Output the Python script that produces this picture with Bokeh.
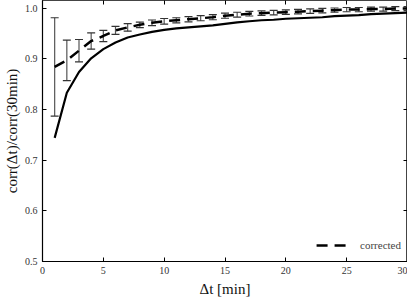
from bokeh.plotting import figure
from bokeh.models import (LinearAxis, FixedTicker, Whisker, ColumnDataSource, Range1d,
                          Legend, LegendItem, TeeHead)
from bokeh.embed import file_html
from bokeh.resources import INLINE

# --- data ---
dt = list(range(1, 31))
raw = [0.744, 0.833, 0.874, 0.901, 0.919, 0.932, 0.942, 0.948, 0.953, 0.957,
       0.960, 0.962, 0.964, 0.966, 0.969, 0.972, 0.974, 0.976, 0.977, 0.979,
       0.980, 0.981, 0.982, 0.984, 0.985, 0.986, 0.988, 0.989, 0.990, 0.991]
corrected = [0.884, 0.897, 0.916, 0.935, 0.945, 0.956, 0.962, 0.967, 0.971, 0.974,
             0.976, 0.978, 0.980, 0.982, 0.985, 0.987, 0.989, 0.990, 0.991, 0.992,
             0.993, 0.994, 0.995, 0.996, 0.997, 0.997, 0.998, 0.998, 0.999, 0.999]
err = [0.097, 0.040, 0.022, 0.016, 0.011, 0.008, 0.0075, 0.0055, 0.0055, 0.0055,
       0.0050, 0.0050, 0.0050, 0.0050, 0.0050, 0.0048, 0.0046, 0.0045, 0.0045, 0.0044,
       0.0044, 0.0043, 0.0043, 0.0042, 0.0042, 0.0042, 0.0041, 0.0041, 0.0040, 0.0040]
x_ticks = [0, 5, 10, 15, 20, 25, 30]
y_ticks = [0.5, 0.6, 0.7, 0.8, 0.9, 1.0]
y_tick_labels = {0.5: "0.5", 0.6: "0.6", 0.7: "0.7", 0.8: "0.8", 0.9: "0.9", 1.0: "1.0"}

FONT = "Liberation Serif"

p = figure(width=407, height=299, output_backend="svg", toolbar_location=None,
           x_range=Range1d(0, 30), y_range=Range1d(0.5, 1.015),
           min_border_left=37, min_border_right=0, min_border_top=0, min_border_bottom=0,
           x_axis_label="Δt [min]", y_axis_label="corr(Δt)/corr(30min)")
p.grid.visible = False
p.outline_line_color = "#444444"
p.outline_line_width = 1

for axes in (p.xaxis, p.yaxis):
    axes.major_tick_in = 4
    axes.major_tick_out = 0
    axes.minor_tick_line_color = None
    axes.axis_line_color = "black"
    axes.axis_line_width = 1.2
    axes.major_label_text_font = FONT
    axes.major_label_text_font_size = "10px"
    axes.major_label_text_color = "#333333"
    axes.axis_label_text_font = FONT
    axes.axis_label_text_font_size = "15px"
    axes.axis_label_text_font_style = "normal"
    axes.axis_label_text_color = "#111111"

p.xaxis.ticker = FixedTicker(ticks=x_ticks)
p.yaxis.ticker = FixedTicker(ticks=y_ticks)
p.yaxis.major_label_overrides = y_tick_labels
p.xaxis.major_label_standoff = 5
p.yaxis.major_label_standoff = 5
p.xaxis.axis_label_standoff = 4
p.yaxis.axis_label_standoff = 2

# mirrored axes (ticks only)
top = LinearAxis(ticker=FixedTicker(ticks=x_ticks), major_tick_in=4, major_tick_out=0,
                 minor_tick_line_color=None, axis_line_color=None, major_label_standoff=0,
                 axis_label_standoff=0,
                 major_label_overrides={t: "" for t in x_ticks})
right = LinearAxis(ticker=FixedTicker(ticks=y_ticks), major_tick_in=4, major_tick_out=0,
                   minor_tick_line_color=None, axis_line_color=None, major_label_standoff=0,
                   axis_label_standoff=0,
                   major_label_overrides={t: "" for t in y_ticks})
p.add_layout(top, "above")
p.add_layout(right, "right")

src = ColumnDataSource(data=dict(
    x=dt, y=corrected,
    upper=[c + e for c, e in zip(corrected, err)],
    lower=[c - e for c, e in zip(corrected, err)],
))

p.line(dt, raw, line_color="black", line_width=2.2)

wh = Whisker(base="x", upper="upper", lower="lower", source=src,
             line_color="#555555", line_width=1.2,
             upper_head=TeeHead(size=8, line_color="#333333", line_width=1.2),
             lower_head=TeeHead(size=8, line_color="#333333", line_width=1.2))
p.add_layout(wh)

corr_r = p.line("x", "y", source=src, line_color="black", line_width=2.5,
                line_dash="11 7")

legend = Legend(items=[LegendItem(label="corrected", renderers=[corr_r])],
                location="bottom_right", border_line_alpha=0, background_fill_alpha=0,
                label_text_font=FONT, label_text_font_size="11px", glyph_width=32,
                label_standoff=12, margin=2, padding=4)
p.add_layout(legend)

open("out.html", "w").write(file_html(p, INLINE))
